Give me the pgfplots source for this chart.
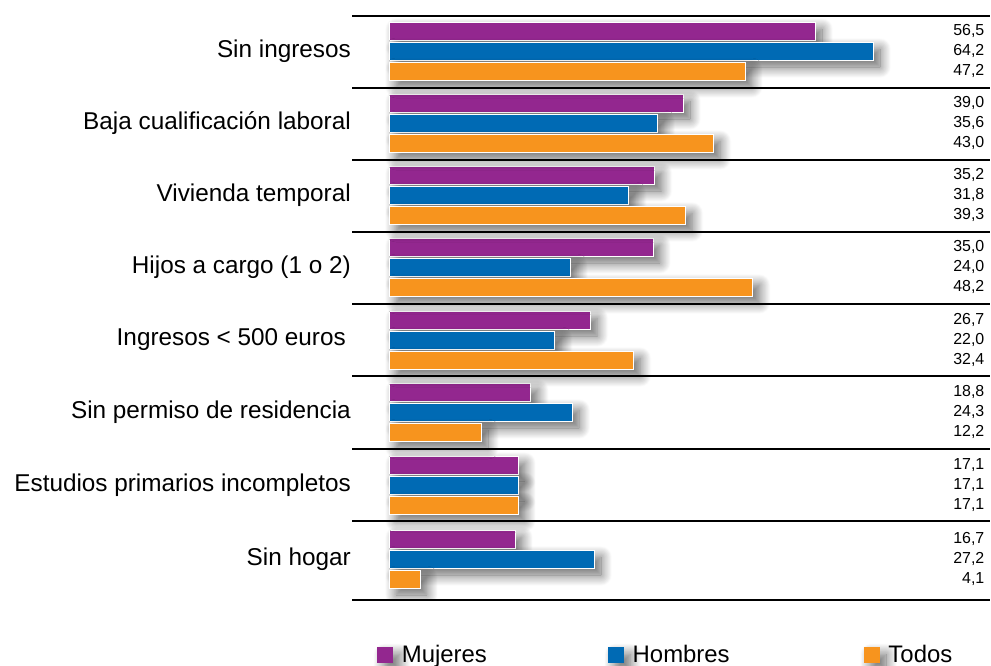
\documentclass[border=0pt]{standalone}
\usepackage{fontspec}
\setmainfont{Liberation Sans}
\usepackage{pgfplots}
\usepackage{pgfplotstable}
\pgfplotsset{compat=1.18}
\usetikzlibrary{shadows.blur}

\definecolor{cMuj}{RGB}{147,39,143}
\definecolor{cHom}{RGB}{0,106,180}
\definecolor{cTod}{RGB}{247,148,30}

% y = pixel row of the blue bar (group centre)
\pgfplotstableread{
y   muj  hom  tod
51  56.5 64.2 47.2
123 39.0 35.6 43.0
195 35.2 31.8 39.3
267 35.0 24.0 48.2
340 26.7 22.0 32.4
412 18.8 24.3 12.2
485 17.1 17.1 17.1
559 16.7 27.2 4.1
}\data

\begin{document}
\begin{tikzpicture}
\path[use as bounding box] (0,0) rectangle (991bp,-666bp);
\begin{axis}[
    at={(352bp,-16bp)}, anchor=north west,
    scale only axis, width=638bp, height=584bp,
    xbar, bar width=18,
    xmin=-4.907, xmax=79.7,
    ymin=16, ymax=600, y dir=reverse,
    axis line style={draw=none},
    xtick=\empty,
    ytick={51,123,195,267,340,412,485,559},
    yticklabels={Sin ingresos, Baja cualificación laboral, Vivienda temporal,
      Hijos a cargo (1 o 2), {Ingresos < 500 euros\hspace*{5bp}}, Sin permiso de residencia,
      Estudios primarios incompletos, Sin hogar},
    yticklabel style={font=\fontsize{24.4}{28}\selectfont, inner sep=1bp, text=black},
    major tick length=0pt,
    extra y ticks={16,88,160,232,304,376,449,521,600},
    extra y tick labels={},
    extra y tick style={grid=major, major grid style={black, line width=1.8bp}},
    axis on top,
    legend style={draw=none, fill=none, at={(axis description cs:0.039,-0.094)}, anchor=west,
      font=\fontsize{24}{28}\selectfont, inner sep=0pt,
      /tikz/every odd column/.append style={column sep=7bp},
      /tikz/column 2/.style={column sep=119bp},
      /tikz/column 4/.style={column sep=132bp},
      /tikz/column 5/.style={column sep=1bp}},
    legend columns=3,
    every axis plot/.append style={draw=white, line width=0.8bp},
    shad/.style={blur shadow={shadow xshift=7bp, shadow yshift=-7bp,
      shadow blur radius=11bp, shadow blur steps=16, shadow opacity=60}},
]
\addplot[fill=cMuj, bar shift=-20, shad,
  legend image code/.code={\fill[cMuj] (0bp,-7.5bp) rectangle (15bp,7.5bp);}]
  table[x=muj, y=y] \data;
\addlegendentry{Mujeres}
\addplot[fill=cHom, bar shift=0, shad,
  legend image code/.code={\fill[cHom] (0bp,-7.5bp) rectangle (15bp,7.5bp);}]
  table[x=hom, y=y] \data;
\addlegendentry{Hombres}
\addplot[fill=cTod, bar shift=20, shad,
  legend image code/.code={\fill[cTod] (0bp,-7.5bp) rectangle (15bp,7.5bp);}]
  table[x=tod, y=y] \data;
\addlegendentry{Todos}

% value column at the right
\pgfplotsset{vallabel/.style={draw=none, mark=none, forget plot, point meta=explicit,
  nodes near coords={\pgfmathprintnumber[use comma,fixed,fixed zerofill,precision=1,assume math mode=true]{\pgfplotspointmeta}},
  every node near coord/.style={anchor=east, inner sep=0pt, font=\fontsize{16}{19}\selectfont, text=black}}}
\addplot[vallabel, xbar=0pt, bar width=0, bar shift=0] table[x expr=79, y expr=\thisrow{y}-20, meta=muj] \data;
\addplot[vallabel, xbar=0pt, bar width=0, bar shift=0] table[x expr=79, y expr=\thisrow{y}, meta=hom] \data;
\addplot[vallabel, xbar=0pt, bar width=0, bar shift=0] table[x expr=79, y expr=\thisrow{y}+20, meta=tod] \data;
\end{axis}
\end{tikzpicture}
\end{document}
